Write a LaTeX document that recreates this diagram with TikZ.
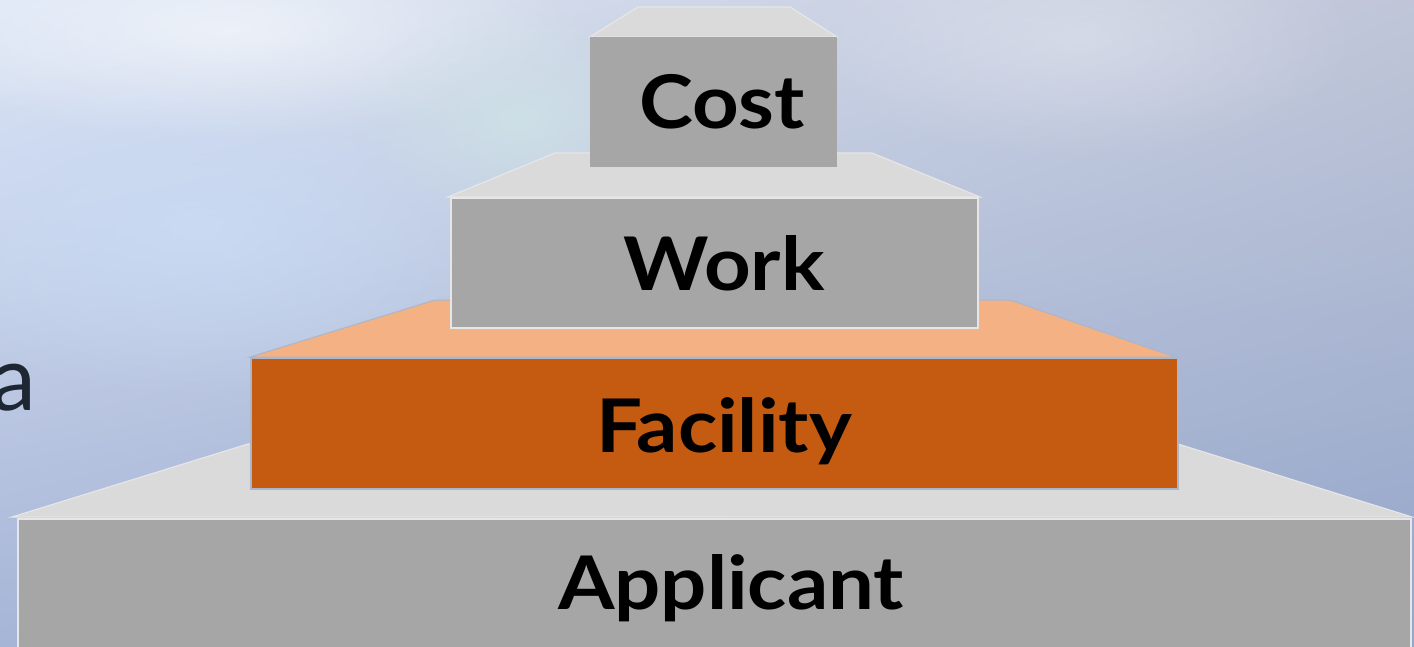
\documentclass[tikz,border=0pt]{standalone}
\usepackage{fontspec}
\setmainfont{Lato}
\usetikzlibrary{shadings,fadings}
\definecolor{frontgray}{HTML}{A6A6A6}
\definecolor{topgray}{HTML}{DADADA}
\definecolor{edgegray}{HTML}{E6E6E6}
\definecolor{frontorange}{HTML}{C55A11}
\definecolor{toporange}{HTML}{F4B183}
\definecolor{edgeblue}{HTML}{A9B6CB}
\definecolor{inkdark}{HTML}{1F2633}
\definecolor{bgUL}{HTML}{DCE6F6}
\definecolor{bgUR}{HTML}{C0C6D8}
\definecolor{bgLL}{HTML}{A6B4D6}
\definecolor{bgLR}{HTML}{93A5CA}
\definecolor{glowblue}{HTML}{CADCF6}
\definecolor{glowteal}{HTML}{CFE3E6}
\tikzfading[name=softglow, inner color=transparent!20, outer color=transparent!100]
\tikzset{
  frontbox/.style={fill=frontgray, draw=edgegray, line width=1.5pt},
  topface/.style={fill=topgray, draw=edgegray, line width=1.2pt, line join=miter},
  ofront/.style={fill=frontorange, draw=edgeblue, line width=1.5pt},
  otop/.style={fill=toporange, draw=edgeblue, line width=1pt},
  lab/.style={font=\fontsize{74}{74}\selectfont\bfseries, text=black, anchor=base, inner sep=0pt}
}
\newcommand{\widelab}[1]{\scalebox{1.1}[1]{#1}}
\begin{document}
\begin{tikzpicture}[x=1pt,y=-1pt]
\useasboundingbox (0,0) rectangle (1414,646);
\clip (0,0) rectangle (1414,646);
% background
\shade[upper left=bgUL, upper right=bgUR, lower left=bgLL, lower right=bgLR] (0,0) rectangle (1414,646);
\fill[glowblue, path fading=softglow] (200,230) ellipse (330 and 170);
\fill[white, path fading=softglow, opacity=0.7] (230,30) ellipse (360 and 110);
\fill[glowteal, path fading=softglow] (520,120) ellipse (170 and 110);
\fill[white, path fading=softglow, opacity=0.35] (1080,40) ellipse (280 and 120);
% partial text at the left
\node[font=\fontsize{90}{90}\selectfont, text=inkdark, anchor=base east, inner sep=0pt] (cut) at (36,410) {a};
% Applicant step
\path[topface] (248,444) -- (1178,444) -- (1412,517) -- (12,517) -- cycle;
\node[frontbox, minimum width=1393pt, minimum height=150pt, anchor=north west, inner sep=0pt] (app) at (17,518) {};
\node[lab] (applab) at (731,609) {\widelab{Applicant}};
% Facility step
\path[otop] (435,300) -- (1010,300) -- (1175,357) -- (250,357) -- cycle;
\node[ofront, minimum width=927pt, minimum height=131pt, anchor=north west, inner sep=0pt] (fac) at (250,357) {};
\node[lab] (faclab) at (724,452) {\widelab{Facility}};
% Work step
\path[topface] (555,153) -- (872,153) -- (980,197) -- (448,197) -- cycle;
\node[frontbox, minimum width=527pt, minimum height=130pt, anchor=north west, inner sep=0pt] (work) at (450,197) {};
\node[lab] (worklab) at (724,290) {\widelab{Work}};
% Cost step
\path[topface] (638,7) -- (790,7) -- (837,37) -- (590,37) -- cycle;
\node[fill=frontgray, minimum width=247pt, minimum height=130pt, anchor=north west, inner sep=0pt] (cost) at (590,37) {};
\node[lab] (costlab) at (722,128) {\widelab{Cost}};
\end{tikzpicture}
\end{document}
